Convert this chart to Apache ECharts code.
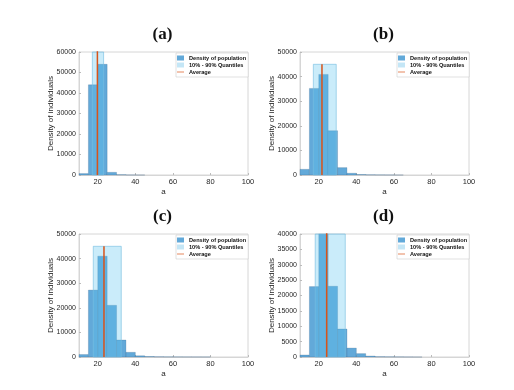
<!DOCTYPE html>
<html>
<head>
<meta charset="utf-8">
<script src="https://cdn.jsdelivr.net/npm/echarts@6/dist/echarts.min.js"></script>
<style>
  html, body {margin:0;padding:0;background:#fff;}
  #chart {width:514px;height:390px;}
</style>
</head>
<body>
<div id="chart"></div>
<script>
// histogram bins: start of each 5-wide bin, 10..95
var binStarts = [10,15,20,25,30,35,40,45,50,55,60,65,70,75,80,85,90,95];
var binWidth = 5;

// counts per bin, panels (a)..(d)
var countsA = [700,44000,54000,1300,150,30,10,0,0,0,0,0,0,0,0,0,0,0];
var countsB = [2300,35200,40900,18000,3000,700,200,80,40,20,10,0,0,0,0,0,0,0];
var countsC = [1000,27200,41000,21000,6900,1900,500,200,100,60,40,30,20,15,0,0,0,0];
var countsD = [650,22900,41000,23000,9100,2900,1100,300,100,60,40,20,10,0,0,0,0,0];

// 10% / 90% quantiles, average, band height
var quantA = [17.1, 23.1], quantB = [17.1, 29.3], quantC = [17.6, 32.5], quantD = [18.1, 34.1];
var averages = [19.8, 21.7, 23.3, 24.2];
var bandTops = [65000, 45000, 45000, 45000];

// axis ranges
var yMaxs = [60000, 50000, 50000, 40000];
var ySteps = [10000, 10000, 10000, 5000];
var xTicks = [20, 40, 60, 80, 100];
var panelTitles = ['(a)', '(b)', '(c)', '(d)'];

var counts = [countsA, countsB, countsC, countsD];
var quants = [quantA, quantB, quantC, quantD];

var myChart = echarts.init(document.getElementById('chart'), null, {renderer: 'canvas'});

var BAR = '#62a9d9', BAND = 'rgba(90,196,240,0.32)', AVG = '#d95319';
var FONT = 'Liberation Sans';
var frames = [
    {left: 79, top: 52},
    {left: 300, top: 52},
    {left: 79, top: 234},
    {left: 300, top: 234}
];
var W = 169, H = 123;

function clipTo(params, rect) {
    return echarts.graphic.clipRectByRect(rect, {
        x: params.coordSys.x, y: params.coordSys.y,
        width: params.coordSys.width, height: params.coordSys.height
    });
}

var grids = [], xAxes = [], yAxes = [], series = [], titles = [], legends = [];

for (var i = 0; i < 4; i++) {
    var f = frames[i];
    grids.push({left: f.left, top: f.top, width: W, height: H, show: true,
        borderColor: '#d6d6d6', borderWidth: 1, backgroundColor: '#fff', outerBoundsMode: 'none'});
    xAxes.push({
        gridIndex: i, type: 'value', min: 10, max: 100,
        name: 'a', nameLocation: 'middle', nameGap: 13, nameMoveOverlap: false,
        nameTextStyle: {fontFamily: FONT, fontSize: 8, color: '#262626'},
        axisLine: {show: true, onZero: false, lineStyle: {color: '#d6d6d6', width: 1}},
        axisTick: {show: true, inside: true, length: 2, customValues: xTicks, lineStyle: {color: '#bbb'}},
        axisLabel: {customValues: xTicks, fontFamily: FONT, fontSize: 7.5, color: '#262626', margin: 3},
        splitLine: {show: false}
    });
    yAxes.push({
        gridIndex: i, type: 'value', min: 0, max: yMaxs[i], interval: ySteps[i],
        name: 'Density of individuals', nameLocation: 'middle', nameGap: 24, nameRotate: 90,
        nameMoveOverlap: false,
        nameTextStyle: {fontFamily: FONT, fontSize: 8, color: '#262626'},
        axisLine: {show: true, lineStyle: {color: '#d6d6d6', width: 1}},
        axisTick: {show: true, inside: true, length: 2, lineStyle: {color: '#bbb'}},
        axisLabel: {fontFamily: FONT, fontSize: 7, color: '#262626', margin: 3,
            formatter: function (v) { return String(v); }},
        splitLine: {show: false}
    });

    var histData = [];
    for (var k = 0; k < binStarts.length; k++) {
        if (counts[i][k] > 0) histData.push([binStarts[k], binStarts[k] + binWidth, counts[i][k]]);
    }
    series.push({
        name: 'Density of population', type: 'custom', xAxisIndex: i, yAxisIndex: i, z: 2,
        itemStyle: {color: BAR},
        encode: {x: [0, 1], y: 2},
        data: histData,
        renderItem: function (params, api) {
            var p0 = api.coord([api.value(0), 0]);
            var p1 = api.coord([api.value(1), api.value(2)]);
            var r = clipTo(params, {x: p0[0], y: p1[1], width: p1[0] - p0[0], height: p0[1] - p1[1]});
            return r && {type: 'rect', shape: r,
                style: {fill: BAR, stroke: 'rgba(40,80,120,0.35)', lineWidth: 0.6}};
        }
    });
    series.push({
        name: '10% - 90% Quantiles', type: 'custom', xAxisIndex: i, yAxisIndex: i, z: 3,
        itemStyle: {color: '#c4e6f6'},
        encode: {x: [0, 1], y: 2},
        data: [[quants[i][0], quants[i][1], bandTops[i]]],
        renderItem: function (params, api) {
            var p0 = api.coord([api.value(0), 0]);
            var p1 = api.coord([api.value(1), api.value(2)]);
            var r = clipTo(params, {x: p0[0], y: p1[1], width: p1[0] - p0[0], height: p0[1] - p1[1]});
            return r && {type: 'rect', shape: r,
                style: {fill: BAND, stroke: 'rgba(120,190,225,0.8)', lineWidth: 0.8}};
        }
    });
    series.push({
        name: 'Average', type: 'line', xAxisIndex: i, yAxisIndex: i, z: 4,
        symbol: 'none', clip: true, silent: true,
        lineStyle: {color: AVG, width: 1.5}, itemStyle: {color: AVG},
        data: [[averages[i], 0], [averages[i], bandTops[i]]]
    });

    titles.push({
        text: panelTitles[i], left: f.left + W / 2 - 6, top: f.top - 31, textAlign: 'center',
        textStyle: {fontFamily: 'Liberation Serif', fontWeight: 'bold', fontSize: 17, color: '#111'}
    });
    legends.push({
        orient: 'vertical', left: f.left + 97, top: f.top + 1,
        data: ['Density of population', '10% - 90% Quantiles',
            {name: 'Average', icon: 'path://M0,0M0,4H20V6H0ZM20,10'}],
        icon: 'rect', itemWidth: 7, itemHeight: 5, itemGap: 1,
        padding: [2, 2, 2, 1],
        backgroundColor: '#fff', borderColor: '#cfcfcf', borderWidth: 0.6,
        textStyle: {fontFamily: FONT, fontWeight: 'bold', fontSize: 5.6, color: '#111', lineHeight: 6},
        selectedMode: false
    });
}

var option = {
    animation: false,
    backgroundColor: '#fff',
    title: titles,
    legend: legends,
    grid: grids,
    xAxis: xAxes,
    yAxis: yAxes,
    series: series
};
myChart.setOption(option, true);
</script>
</body>
</html>
